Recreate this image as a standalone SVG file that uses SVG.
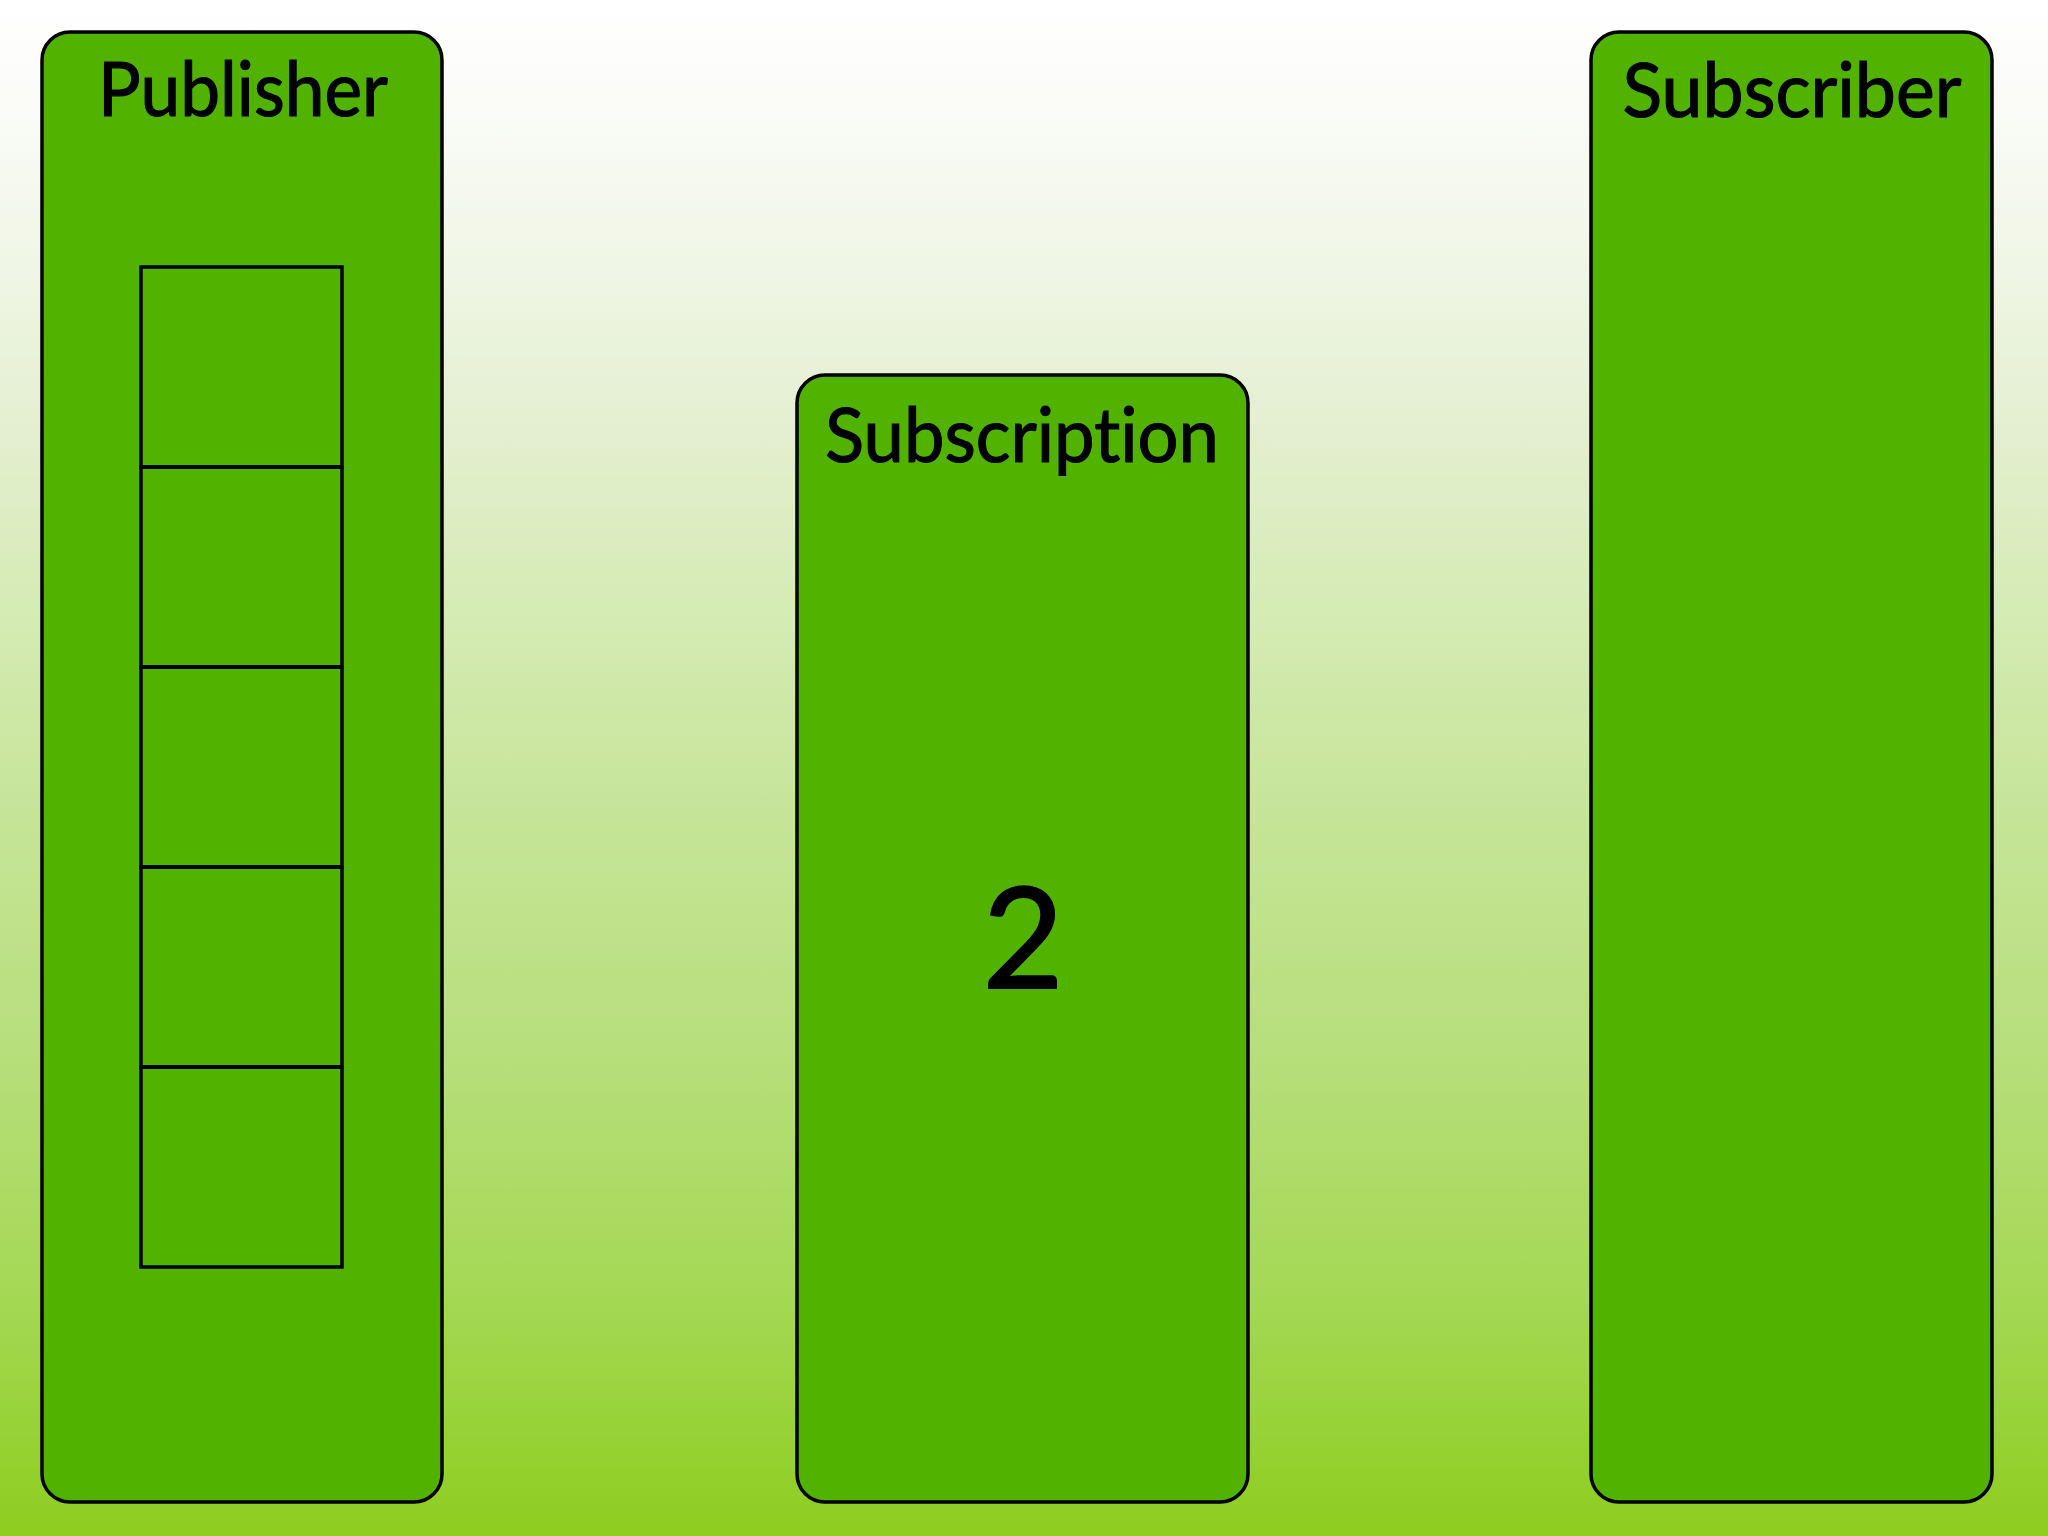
<svg xmlns="http://www.w3.org/2000/svg" width="2048" height="1536" viewBox="0 0 2048 1536">
  <defs>
    <linearGradient id="bg" x1="0" y1="0" x2="0" y2="1">
      <stop offset="0" stop-color="#ffffff"/>
      <stop offset="0.04" stop-color="#fdfdfc"/>
      <stop offset="0.17" stop-color="#f0f6e6"/>
      <stop offset="0.28" stop-color="#e4efd0"/>
      <stop offset="0.38" stop-color="#d7ecb8"/>
      <stop offset="0.52" stop-color="#c7e59a"/>
      <stop offset="0.70" stop-color="#b5de78"/>
      <stop offset="0.85" stop-color="#a3d852"/>
      <stop offset="1" stop-color="#8ecd1f"/>
    </linearGradient>
  </defs>
  <style>
    .box { fill: #52b200; stroke: #000; stroke-width: 3.5; }
    .cell { fill: none; stroke: #000; stroke-width: 3.5; }
    .title { font-family: Lato, "Open Sans", "Liberation Sans", sans-serif; font-size: 76px; fill: #000; stroke: #000; stroke-width: 1.2; text-anchor: middle; font-variant-ligatures: none; }
    .num { font-family: Lato, "Open Sans", "Liberation Sans", sans-serif; font-size: 140px; fill: #000; stroke: #000; stroke-width: 2; text-anchor: middle; }
  </style>
  <rect x="0" y="0" width="2048" height="1536" fill="url(#bg)"/>

  <g id="publisher">
    <rect class="box" x="42" y="32" width="400" height="1470" rx="28" ry="28"/>
    <text class="title" x="243" y="116" textLength="290" lengthAdjust="spacingAndGlyphs">Publisher</text>
    <g id="queue">
      <rect class="cell" x="141" y="267" width="201" height="200"/>
      <rect class="cell" x="141" y="467" width="201" height="200"/>
      <rect class="cell" x="141" y="667" width="201" height="200"/>
      <rect class="cell" x="141" y="867" width="201" height="200"/>
      <rect class="cell" x="141" y="1067" width="201" height="200"/>
    </g>
  </g>

  <g id="subscription">
    <rect class="box" x="797" y="375" width="451" height="1127" rx="28" ry="28"/>
    <text class="title" x="1022" y="462" textLength="394" lengthAdjust="spacingAndGlyphs">Subscription</text>
    <text class="num" x="1023" y="988">2</text>
  </g>

  <g id="subscriber">
    <rect class="box" x="1591" y="32" width="401" height="1470" rx="28" ry="28"/>
    <text class="title" x="1792" y="117" textLength="339" lengthAdjust="spacingAndGlyphs">Subscriber</text>
  </g>

  <g id="connectors"/>
</svg>
